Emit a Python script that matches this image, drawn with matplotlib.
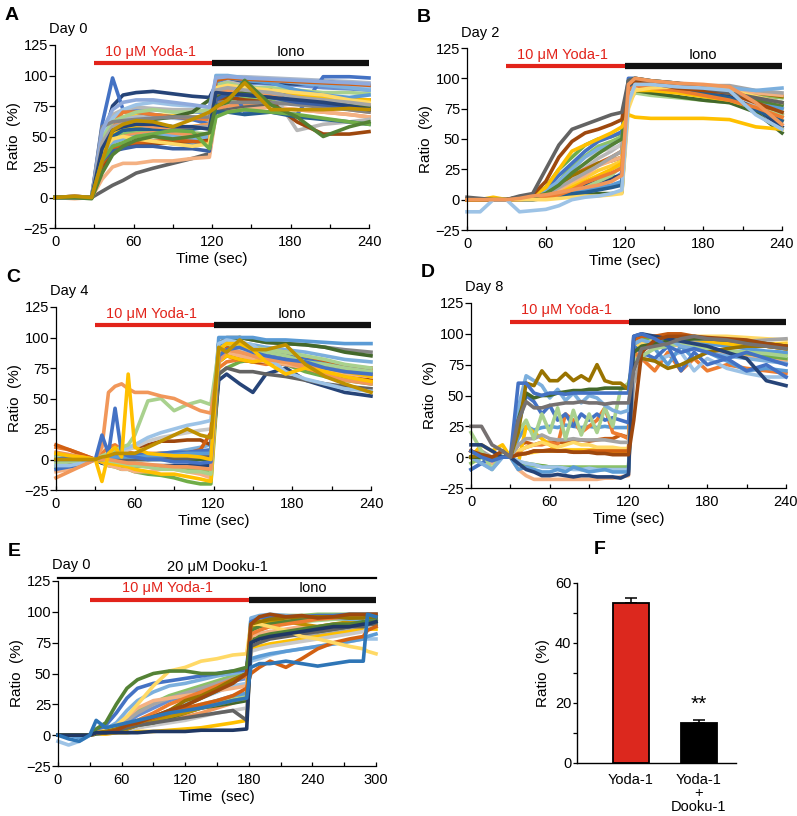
import matplotlib
matplotlib.use("Agg")
import matplotlib.pyplot as plt
from matplotlib.ticker import MultipleLocator

plt.rcParams['font.family'] = ['Liberation Sans', 'DejaVu Sans']
plt.rcParams['font.size'] = 10

W, H = 797, 816

# ---------------- data ----------------
# Panel A, Day 0
t_a = [0, 15, 28, 36, 44, 52, 62, 75, 90, 105, 118, 123, 132, 145, 165, 185, 205, 225, 240]
traces_a = [
    [0, 0, 0, 50, 62, 66, 68, 68, 67, 66, 65, 84, 86, 85, 84, 83, 82, 81, 80],
    [0, 0, 0, 40, 50, 52, 54, 55, 54, 53, 52, 78, 80, 82, 80, 78, 76, 74, 73],
    [0, 0, 0, 52, 66, 70, 72, 72, 71, 70, 70, 94, 95, 94, 93, 92, 90, 89, 88],
    [0, 0, 0, 33, 45, 50, 52, 53, 52, 52, 50, 72, 75, 76, 74, 72, 70, 68, 66],
    [0, 0, 0, 45, 60, 64, 66, 66, 65, 64, 63, 98, 99, 99, 98, 97, 96, 95, 94],
    [0, 1, 0, 45, 75, 84, 86, 87, 85, 83, 82, 92, 96, 95, 94, 93, 95, 93, 91],
    [0, 0, 0, 60, 98, 72, 70, 68, 66, 64, 60, 90, 97, 70, 70, 68, 99, 99, 98],
    [0, 0, 0, 5, 10, 14, 20, 24, 28, 32, 36, 70, 72, 74, 76, 78, 78, 80, 80],
    [0, -1, 0, 15, 25, 28, 28, 30, 30, 32, 33, 68, 70, 72, 74, 72, 70, 68, 66],
    [0, 1, 0, 55, 68, 72, 74, 73, 72, 72, 70, 92, 95, 92, 88, 55, 60, 62, 64],
    [0, 0, 0, 50, 65, 72, 76, 78, 76, 75, 74, 96, 98, 97, 96, 95, 94, 92, 90],
    [0, 1, 0, 45, 60, 70, 70, 68, 66, 65, 64, 88, 90, 88, 86, 84, 80, 78, 76],
    [0, 0, 0, 40, 52, 56, 58, 60, 58, 58, 60, 85, 88, 86, 85, 84, 82, 80, 80],
    [0, 0, 0, 48, 62, 66, 70, 72, 70, 70, 72, 92, 94, 90, 90, 88, 86, 86, 85],
    [0, 0, 0, 30, 40, 42, 45, 46, 44, 43, 44, 95, 98, 96, 94, 88, 84, 82, 84],
    [0, 0, 0, 25, 38, 42, 44, 44, 45, 46, 48, 80, 82, 80, 78, 62, 52, 52, 54],
    [0, 0, 0, 35, 50, 55, 56, 56, 55, 56, 58, 70, 70, 68, 70, 66, 64, 62, 60],
    [0, 0, 0, 42, 58, 62, 60, 58, 57, 58, 60, 86, 88, 87, 85, 82, 78, 72, 70],
    [0, 0, 0, 38, 55, 60, 62, 64, 66, 70, 80, 82, 84, 86, 88, 80, 78, 76, 74],
    [0, 0, 0, 58, 62, 63, 64, 65, 66, 66, 66, 78, 78, 78, 78, 76, 74, 72, 70],
    [0, 0, 0, 35, 45, 48, 50, 52, 50, 48, 50, 100, 100, 98, 96, 94, 92, 90, 88],
    [0, 0, 0, 28, 40, 44, 45, 46, 47, 46, 45, 96, 98, 97, 96, 95, 94, 93, 92],
    [0, 0, 0, 30, 38, 40, 42, 42, 40, 40, 38, 80, 85, 84, 82, 78, 76, 74, 72],
    [0, 0, 0, 38, 48, 50, 48, 46, 44, 42, 44, 90, 92, 90, 88, 86, 84, 80, 78],
    [0, 0, 0, 55, 72, 78, 80, 80, 78, 76, 74, 98, 99, 98, 97, 96, 95, 94, 93],
    [0, 0, 0, 45, 58, 60, 62, 60, 58, 58, 58, 88, 90, 88, 86, 82, 80, 78, 76],
    [0, 0, 0, 40, 55, 58, 60, 60, 58, 58, 56, 86, 85, 84, 82, 80, 78, 75, 72],
    [0, 0, 0, 30, 42, 45, 50, 52, 55, 54, 40, 66, 70, 72, 70, 68, 65, 62, 60],
    [0, 0, -1, 20, 35, 42, 47, 50, 48, 50, 53, 75, 78, 96, 76, 66, 50, 58, 62],
    [0, 1, 0, 30, 55, 60, 63, 62, 58, 64, 70, 74, 80, 94, 72, 72, 72, 73, 72],
]
colors_a = ['#FFCD33', '#8CC168', '#698ED0', '#F1975A', '#ADB9CA',
            '#264478', '#4472C4', '#636363', '#F4B183', '#B7B7B7', '#9DC3E6', '#ED7D31',
            '#FFC000', '#A9D18E', '#5B9BD5', '#9E480E', '#255E91', '#F1975A', '#43682B',
            '#848484', '#7CAFDD', '#D26012', '#3A5FA3', '#FFD966', '#8FAADC', '#A5A5A5',
            '#264478', '#70AD47', '#548235', '#BF9000']

# Panel B, Day 2
t_b = [0, 10, 20, 30, 40, 50, 60, 70, 80, 90, 100, 110, 118, 123, 128, 140, 160, 180, 200, 220, 240]
traces_b = [
    [0, 0, 0, 0, 1, 2, 6, 15, 28, 36, 44, 48, 52, 97, 99, 97, 95, 93, 90, 86, 84],
    [0, 0, 0, 0, 0, 1, 3, 8, 12, 18, 24, 28, 32, 90, 95, 93, 91, 89, 86, 80, 74],
    [0, 0, 0, 0, 0, 0, 1, 3, 6, 9, 12, 16, 22, 93, 97, 96, 94, 92, 90, 84, 78],
    [0, 0, 0, 0, 1, 2, 4, 10, 18, 26, 34, 40, 46, 94, 96, 94, 92, 90, 86, 78, 68],
    [0, 0, 0, 0, 2, 3, 10, 25, 35, 45, 50, 52, 55, 96, 98, 95, 92, 90, 86, 82, 80],
    [0, 0, 0, 0, 1, 2, 8, 20, 30, 40, 48, 52, 56, 100, 100, 98, 96, 94, 90, 85, 80],
    [0, 0, 0, 0, 1, 2, 5, 10, 20, 30, 40, 42, 45, 95, 97, 95, 93, 90, 86, 80, 75],
    [0, 0, 0, 0, 1, 1, 3, 5, 8, 12, 15, 18, 20, 96, 98, 96, 94, 90, 85, 75, 60],
    [0, 0, 0, 0, 1, 2, 5, 12, 20, 25, 30, 35, 40, 96, 98, 96, 94, 92, 88, 80, 70],
    [0, 0, 0, 0, 0, 1, 2, 4, 6, 10, 15, 20, 28, 80, 88, 86, 84, 82, 80, 75, 70],
    [0, 0, 0, 0, 2, 2, 6, 12, 20, 24, 30, 32, 35, 96, 98, 96, 95, 94, 92, 88, 85],
    [0, 0, 0, 0, 0, 1, 3, 8, 15, 20, 28, 32, 35, 95, 97, 95, 93, 92, 90, 88, 86],
    [0, 0, 0, 0, 0, 1, 2, 4, 6, 8, 10, 12, 15, 90, 96, 94, 92, 90, 88, 82, 75],
    [0, 0, 0, 0, 0, 0, 1, 2, 3, 4, 5, 5, 6, 85, 90, 88, 85, 82, 80, 72, 55],
    [0, 0, 0, 0, 1, 1, 4, 10, 16, 22, 28, 35, 40, 95, 98, 96, 95, 94, 94, 90, 88],
    [0, 0, 0, 0, 0, 1, 2, 5, 10, 15, 20, 25, 30, 85, 90, 90, 88, 85, 82, 75, 65],
    [0, 0, 0, 0, 1, 3, 8, 15, 25, 35, 42, 45, 50, 96, 98, 97, 95, 93, 92, 90, 92],
    [0, 0, 0, 0, 0, 0, 2, 3, 5, 6, 8, 10, 12, 92, 95, 94, 92, 88, 84, 74, 65],
    [0, 0, 0, 0, 0, 1, 2, 4, 8, 14, 18, 22, 26, 90, 94, 92, 90, 86, 82, 76, 68],
    [0, 0, 0, 0, 1, 2, 5, 12, 22, 30, 38, 45, 50, 98, 100, 98, 96, 92, 88, 82, 78],
    [0, 0, 0, 0, 0, 0, 0, 1, 2, 3, 3, 4, 5, 75, 90, 92, 93, 92, 90, 85, 80],
    [0, 0, 2, 0, 2, 3, 10, 25, 40, 45, 50, 55, 60, 70, 68, 67, 67, 67, 66, 60, 58],
    [0, 0, 0, 0, 2, 4, 15, 35, 48, 55, 58, 62, 66, 95, 98, 96, 92, 90, 88, 80, 72],
    [2, 1, 0, 0, 3, 5, 25, 45, 58, 62, 66, 70, 72, 98, 100, 98, 96, 92, 88, 84, 80],
    [-10, -10, 0, 0, -10, -9, -8, -5, 0, 2, 3, 5, 8, 80, 95, 95, 93, 92, 90, 70, 58],
    [0, 0, 0, 0, 1, 3, 4, 6, 8, 10, 12, 15, 20, 95, 100, 98, 96, 95, 93, 80, 62],
]
colors_b = ['#8CC168', '#FFCD33', '#698ED0', '#B7B7B7',
            '#70AD47', '#4472C4', '#C9C9C9', '#264478', '#D26012', '#A9D18E', '#997300',
            '#F4B183', '#5B9BD5', '#43682B', '#A5A5A5', '#FFC000', '#7CAFDD', '#255E91',
            '#ED7D31', '#548235', '#FFD966', '#FFC000', '#9E480E', '#636363', '#9DC3E6',
            '#F1975A']

# Panel C, Day 4
t_c = [0, 10, 20, 30, 35, 40, 45, 50, 55, 60, 70, 80, 90, 100, 110, 118, 124, 130, 140, 150,
       160, 175, 190, 205, 220, 240]
traces_c = [
    [0, 0, 0, 0, 0, 1, 1, 2, 2, 3, 4, 5, 6, 8, 10, 12, 96, 98, 96, 94, 92, 90, 88, 85, 82, 80],
    [-6, -4, -2, 0, -1, -2, -3, -4, -4, -5, -6, -6, -7, -8, -9, -10, 85, 90, 92, 90, 88, 84, 80, 76, 74, 72],
    [4, 3, 2, 0, 1, 1, 2, 2, 3, 3, 4, 5, 5, 6, 6, 6, 92, 96, 95, 92, 90, 88, 84, 80, 76, 74],
    [-5, -5, -3, 0, -3, -5, -6, -8, -8, -10, -12, -13, -15, -18, -20, -20, 70, 75, 80, 82, 80, 78, 72, 68, 65, 62],
    [0, 0, 0, 0, -3, -2, -4, -5, -5, -5, -5, -5, -5, -5, -5, -5, 65, 70, 62, 55, 70, 75, 65, 60, 55, 52],
    [10, 8, 4, 0, 5, 10, 12, 8, 6, 5, 5, 5, 4, 3, 3, 2, 75, 80, 82, 80, 78, 80, 78, 75, 72, 70],
    [0, 0, 0, 0, 0, 0, 0, 0, 0, 0, 2, 3, 3, 5, 5, 5, 95, 100, 100, 98, 96, 95, 94, 92, 90, 88],
    [0, 0, 0, 0, 0, 0, 0, 0, 0, 0, 0, 0, 0, 0, 0, 0, 95, 98, 100, 98, 96, 95, 94, 92, 88, 85],
    [0, -2, -2, 0, 2, 4, 6, 8, 10, 10, 12, 15, 15, 16, 16, 12, 80, 85, 82, 80, 80, 78, 75, 70, 68, 65],
    [5, 4, 2, 0, 1, 2, 3, 5, 8, 10, 15, 18, 20, 22, 24, 25, 90, 92, 90, 88, 85, 82, 80, 76, 72, 70],
    [-10, -8, -5, 0, -2, -5, -6, -8, -8, -10, -10, -8, -8, -10, -12, -15, 85, 88, 85, 82, 80, 78, 75, 72, 70, 68],
    [3, 2, 1, 0, -2, -3, -4, -5, -6, -8, -10, -12, -12, -14, -16, -18, 80, 85, 82, 80, 82, 80, 78, 75, 72, 68],
    [12, 8, 4, 0, 2, 4, 6, 5, 4, 3, 3, 3, 4, 5, 8, 22, 90, 92, 94, 90, 88, 85, 82, 80, 76, 75],
    [-8, -6, -4, 0, 1, 2, 2, 3, 3, 4, 4, 5, 6, 6, 7, 8, 95, 95, 92, 90, 88, 85, 82, 78, 75, 72],
    [2, 2, 1, 0, 0, 0, 0, 0, 0, 0, 0, 1, 1, 1, 2, 2, 70, 75, 72, 72, 70, 68, 65, 62, 60, 58],
    [-3, -2, -1, 0, 0, -1, -2, -3, -4, -5, -6, -8, -8, -10, -10, -12, 90, 95, 92, 92, 90, 88, 85, 82, 78, 75],
    [0, 0, 0, 0, 1, 2, 2, 2, 2, 2, 3, 3, 4, 5, 5, 5, 100, 100, 100, 100, 98, 98, 97, 96, 95, 95],
    [6, 4, 2, 0, 0, 0, -1, -2, -3, -3, -4, -5, -6, -6, -7, -8, 88, 90, 88, 85, 82, 80, 78, 75, 72, 70],
    [-5, -5, -3, 0, 2, 4, 6, 8, 10, 12, 18, 22, 25, 28, 30, 32, 95, 98, 96, 94, 85, 72, 66, 62, 58, 56],
    [2, 1, 0, 0, 3, 5, 8, 10, 12, 20, 48, 50, 40, 45, 48, 45, 90, 95, 92, 90, 88, 85, 80, 78, 75, 72],
    [-15, -10, -5, 0, 10, 55, 60, 62, 58, 55, 55, 52, 50, 45, 40, 38, 80, 90, 88, 85, 82, 80, 75, 70, 65, 62],
    [0, 2, 0, 0, 20, 5, 42, 5, 3, 2, 0, 0, -2, -2, -3, -2, 85, 90, 92, 88, 85, 82, 80, 75, 72, 70],
    [5, 3, 2, 0, -18, 5, 10, 2, 70, 10, 5, 4, 3, 3, 2, 0, 90, 95, 95, 90, 80, 70, 75, 72, 68, 64],
    [0, 0, 0, 0, 2, 3, 5, 5, 5, 5, 10, 15, 20, 25, 20, 18, 92, 88, 98, 90, 90, 94, 78, 68, 62, 55],
]
colors_c = ['#7CAFDD', '#8CC168', '#FFCD33',
            '#70AD47', '#264478', '#ED7D31', '#848484', '#43682B', '#9E480E', '#C9C9C9',
            '#F4B183', '#FFC000', '#D26012', '#4472C4', '#636363', '#A9D18E', '#5B9BD5',
            '#F1975A', '#9DC3E6', '#A9D18E', '#F1975A', '#4472C4', '#FFC000', '#BF9000']

# Panel D, Day 8
t_d = [0, 8, 16, 24, 30, 36, 42, 48, 54, 60, 66, 72, 78, 84, 90, 96, 102, 108, 114, 120, 124,
       130, 140, 150, 160, 170, 180, 195, 210, 225, 240]
traces_d = [
    [0, 0, 0, 0, 0, 2, 3, 4, 5, 5, 5, 6, 6, 6, 6, 6, 6, 6, 6, 6, 92, 96, 97, 98, 97, 96, 95, 94, 93, 92, 92],
    [-5, 0, -5, 0, 0, -5, -6, -7, -7, -8, -8, -8, -8, -8, -8, -8, -8, -8, -8, -8, 85, 90, 92, 94, 92, 90, 88, 86, 85, 84, 84],
    [0, 0, 0, 0, 0, 15, 25, 22, 24, 25, 24, 26, 25, 24, 25, 24, 25, 24, 24, 24, 88, 90, 92, 94, 95, 94, 92, 90, 88, 86, 85],
    [5, 0, 0, 0, 0, 10, 12, 10, 12, 12, 12, 12, 14, 14, 13, 14, 15, 15, 18, 16, 88, 96, 98, 100, 100, 98, 96, 94, 92, 90, 88],
    [0, -5, -5, 0, 0, -10, -15, -18, -18, -18, -18, -18, -18, -18, -18, -18, -17, -17, -16, -15, 80, 88, 90, 92, 90, 88, 86, 84, 82, 80, 78],
    [0, 0, 0, 0, 0, 5, 8, 10, 10, 12, 10, 35, 30, 20, 25, 30, 40, 20, 18, 15, 85, 80, 70, 85, 70, 80, 70, 75, 72, 70, 68],
    [0, 10, 5, 10, 0, -5, 25, 20, 15, 10, 5, 5, 5, 5, 4, 4, 4, 4, 4, 4, 90, 92, 94, 95, 96, 95, 94, 92, 90, 90, 88],
    [0, -5, 0, 0, 0, -5, -5, -6, -7, -8, -8, -9, -9, -10, -10, -10, -10, -10, -10, -10, 90, 95, 96, 95, 92, 90, 88, 86, 84, 82, 80],
    [-10, -5, -10, 0, 0, -3, -5, -6, -8, -8, -8, -9, -10, -10, -9, -10, -10, -10, -10, -10, 75, 80, 78, 82, 85, 70, 80, 72, 68, 65, 65],
    [0, 0, 0, 0, 0, -10, -8, -10, -12, -12, -10, -12, -8, -10, -12, -11, -10, -12, -12, -12, 92, 92, 88, 75, 90, 80, 85, 78, 70, 72, 70],
    [0, 0, 0, 0, 0, 5, 8, 10, 12, 10, 8, 10, 12, 10, 10, 8, 8, 8, 7, 7, 88, 92, 95, 96, 97, 98, 98, 98, 97, 96, 95],
    [5, 0, 0, 0, 0, 3, 3, 5, 5, 6, 5, 5, 4, 4, 5, 5, 5, 5, 5, 5, 95, 98, 98, 98, 98, 97, 96, 95, 94, 92, 90],
    [0, 5, 0, 0, 0, 10, 15, 15, 18, 15, 14, 14, 15, 14, 14, 14, 14, 13, 12, 12, 60, 80, 90, 92, 94, 95, 96, 95, 94, 95, 96],
    [-10, -5, 0, 0, 0, 25, 50, 45, 35, 42, 30, 35, 25, 35, 30, 35, 30, 32, 30, 28, 90, 85, 80, 90, 70, 85, 75, 80, 70, 75, 65],
    [20, 5, -10, 5, 0, 20, 30, 15, 35, 20, 40, 15, 38, 18, 35, 20, 40, 25, 55, 60, 78, 82, 88, 90, 92, 90, 88, 86, 85, 84, 82],
    [0, -5, -10, 0, 0, 40, 66, 62, 58, 48, 55, 46, 52, 44, 50, 48, 42, 38, 36, 38, 92, 95, 92, 96, 90, 88, 85, 82, 80, 78, 76],
    [0, 0, 0, 0, 0, 30, 52, 48, 50, 50, 52, 53, 54, 54, 55, 55, 56, 56, 56, 56, 85, 90, 92, 94, 95, 96, 96, 95, 94, 92, 90],
    [0, 2, 0, 0, 0, 20, 60, 58, 70, 62, 62, 68, 62, 66, 62, 75, 62, 60, 60, 55, 75, 80, 78, 72, 75, 80, 85, 88, 90, 90, 88],
    [10, 10, 5, 0, 0, -5, -10, -12, -15, -15, -14, -15, -16, -15, -15, -16, -16, -16, -17, -14, 98, 100, 98, 96, 94, 92, 90, 85, 80, 62, 58],
    [5, 2, 0, 5, 0, 2, 3, 5, 5, 5, 5, 5, 4, 4, 4, 3, 3, 2, 2, 2, 30, 85, 95, 98, 98, 98, 97, 96, 95, 92, 90],
    [5, 0, -3, 0, 0, 60, 60, 52, 50, 52, 52, 51, 52, 52, 52, 52, 52, 52, 52, 52, 98, 100, 96, 90, 85, 88, 85, 80, 85, 80, 75],
    [25, 25, 10, 5, 0, 30, 45, 40, 40, 42, 43, 44, 44, 45, 44, 44, 43, 44, 44, 44, 70, 88, 90, 92, 96, 98, 96, 95, 92, 90, 88],
]
colors_d = ['#FFCD33', '#8CC168', '#5B9BD5',
            '#C55A11', '#F4B183', '#ED7D31', '#FFC000', '#70AD47', '#9DC3E6', '#5B9BD5',
            '#FFD966', '#D26012', '#A5A5A5', '#4472C4', '#A9D18E', '#7CAFDD', '#43682B',
            '#997300', '#264478', '#9E480E', '#4472C4', '#767171']

# Panel E, Day 0 + Dooku-1
t_e = [0, 10, 20, 30, 36, 45, 55, 65, 75, 90, 105, 120, 135, 150, 165, 178, 182, 190, 200,
       215, 230, 245, 260, 275, 288, 292, 300]
traces_e = [
    [0, 0, 0, 0, 1, 2, 5, 10, 16, 22, 28, 32, 36, 40, 44, 46, 86, 88, 90, 92, 93, 94, 95, 96, 96, 96, 96],
    [0, 0, 0, 0, 1, 1, 2, 4, 6, 9, 12, 15, 18, 22, 26, 30, 76, 78, 80, 83, 85, 87, 88, 90, 91, 92, 93],
    [0, 0, 0, 0, 2, 4, 8, 14, 20, 26, 32, 36, 40, 44, 48, 50, 94, 96, 97, 97, 97, 98, 98, 98, 98, 98, 98],
    [0, 0, 0, 0, 2, 3, 6, 12, 18, 25, 30, 34, 38, 42, 46, 48, 80, 82, 84, 82, 80, 82, 84, 85, 86, 88, 90],
    [0, 0, 0, 0, 1, 2, 3, 5, 8, 12, 15, 20, 25, 28, 30, 32, 88, 90, 90, 92, 92, 93, 94, 94, 95, 95, 95],
    [0, 0, 0, 0, 1, 1, 2, 2, 3, 3, 4, 5, 6, 8, 10, 12, 70, 72, 74, 76, 78, 80, 82, 84, 86, 86, 86],
    [-5, -8, -5, 0, 1, 2, 4, 6, 10, 15, 20, 25, 30, 35, 40, 42, 60, 62, 65, 68, 70, 72, 74, 76, 78, 78, 78],
    [0, 0, 0, 0, 1, 2, 3, 4, 6, 8, 10, 12, 15, 18, 20, 22, 68, 70, 72, 74, 76, 78, 80, 82, 84, 86, 88],
    [0, 0, -2, 0, 2, 3, 5, 7, 10, 13, 17, 20, 24, 28, 32, 34, 62, 64, 66, 68, 70, 72, 74, 76, 78, 80, 82],
    [0, 0, 0, 0, 1, 2, 3, 5, 8, 10, 14, 18, 22, 24, 26, 28, 78, 80, 82, 84, 86, 84, 86, 88, 90, 92, 94],
    [0, 0, 0, 0, 2, 3, 8, 15, 22, 28, 30, 32, 34, 36, 38, 40, 80, 82, 84, 86, 88, 88, 90, 90, 92, 92, 92],
    [0, 0, 0, 0, 2, 2, 3, 5, 8, 12, 15, 18, 22, 25, 28, 30, 88, 90, 92, 92, 90, 88, 90, 92, 94, 95, 95],
    [0, 0, 0, 0, 2, 5, 10, 20, 28, 35, 40, 42, 45, 48, 50, 52, 95, 97, 98, 97, 96, 95, 95, 94, 94, 94, 93],
    [0, 0, 0, 0, 2, 2, 4, 6, 10, 14, 18, 24, 30, 36, 44, 50, 85, 88, 90, 92, 94, 95, 96, 95, 96, 95, 95],
    [0, 0, 0, 0, 2, 3, 5, 8, 12, 18, 25, 30, 35, 40, 45, 48, 82, 85, 88, 90, 92, 94, 95, 96, 97, 98, 98],
    [0, 0, 0, 0, 2, 3, 4, 6, 8, 10, 12, 14, 16, 18, 20, 12, 72, 75, 78, 80, 82, 84, 86, 88, 88, 90, 90],
    [0, 0, 0, 0, 2, 3, 5, 8, 10, 14, 18, 22, 25, 28, 32, 38, 50, 55, 60, 55, 62, 70, 75, 78, 80, 85, 88],
    [0, 0, 0, 0, 2, 8, 18, 30, 38, 42, 44, 46, 48, 50, 52, 53, 92, 95, 96, 96, 96, 97, 97, 98, 98, 98, 98],
    [0, 0, 0, 0, 2, 4, 8, 15, 25, 40, 52, 55, 60, 62, 65, 66, 90, 90, 88, 85, 80, 78, 75, 72, 70, 68, 66],
    [0, 0, 0, 0, 2, 3, 5, 8, 10, 15, 20, 28, 32, 38, 45, 50, 90, 92, 94, 95, 96, 96, 96, 95, 95, 96, 96],
    [0, 0, 0, 0, 2, 2, 4, 8, 10, 15, 20, 24, 30, 36, 42, 50, 90, 96, 98, 96, 97, 95, 96, 98, 98, 98, 98],
    [0, 0, 0, 0, 5, 10, 25, 38, 45, 50, 52, 52, 50, 50, 52, 55, 75, 80, 82, 84, 86, 88, 90, 90, 92, 92, 92],
    [0, 0, 0, 0, 2, 2, 2, 2, 2, 3, 3, 3, 4, 4, 4, 5, 75, 78, 80, 82, 84, 86, 88, 88, 90, 90, 92],
    [0, -3, -5, 0, 12, 6, 8, 10, 12, 15, 18, 20, 22, 25, 28, 30, 55, 58, 58, 60, 58, 56, 58, 60, 60, 98, 96],
]
colors_e = ['#698ED0', '#F1975A', '#8CC168',
            '#A5A5A5', '#A9D18E', '#FFC000', '#9DC3E6', '#C9C9C9', '#5B9BD5', '#43682B',
            '#F4B183', '#BF9000', '#7CAFDD', '#548235', '#ED7D31', '#636363', '#D26012',
            '#4472C4', '#FFD966', '#997300', '#9E480E', '#548235', '#203864', '#2E75B6']

# Panel F
bar_labels = ['Yoda-1', 'Yoda-1\n+\nDooku-1']
bar_means = [53.5, 13.2]
bar_errs = [1.4, 1.2]


def rect(x0, y0, x1, y1):
    return [x0 / W, 1 - y1 / H, (x1 - x0) / W, (y1 - y0) / H]


fig = plt.figure(figsize=(W / 100, H / 100), dpi=100)


def trace_panel(box, t, traces, colors, day, letter, tmax, iono_start, xlabel):
    ax = fig.add_axes(rect(*box))
    for ys, c in zip(traces, colors):
        ax.plot(t, ys, color=c, lw=2.6, solid_joinstyle='round', clip_on=False)
    ax.set_xlim(0, tmax)
    ax.set_ylim(-25, 125)
    ax.set_yticks(range(-25, 126, 25))
    ax.set_xticks(range(0, tmax + 1, 60))
    ax.xaxis.set_minor_locator(MultipleLocator(30))
    ax.tick_params(axis='y', direction='out', length=4, width=0.9, labelsize=10.5, pad=1)
    ax.tick_params(axis='x', which='both', direction='in', length=3, width=0.9, labelsize=10.5, pad=5)
    for s in ['top', 'right']:
        ax.spines[s].set_visible(False)
    for s in ['left', 'bottom']:
        ax.spines[s].set_linewidth(0.9)
    ax.set_ylabel('Ratio  (%)', fontsize=11, labelpad=2)
    ax.set_xlabel(xlabel, fontsize=11, labelpad=2)
    # treatment bars
    ax.plot([30, iono_start], [110, 110], color='#E2231A', lw=3, solid_capstyle='butt', clip_on=False)
    ax.plot([iono_start, tmax], [110, 110], color='#111111', lw=4.5, solid_capstyle='butt', clip_on=False)
    ax.text((30 + iono_start) / 2 - 2, 119, '10 μM Yoda-1', color='#E2231A', fontsize=10.5,
            ha='center', va='center')
    ax.text((iono_start + tmax) / 2, 119, 'Iono', color='black', fontsize=10.5,
            ha='center', va='center')
    ax.text(-0.02, 1.085, day, transform=ax.transAxes, fontsize=10.5, ha='left', va='center')
    fig.text((box[0] - 50) / W, 1 - (box[1] - 30) / H, letter, fontsize=14, fontweight='bold',
             ha='left', va='center')
    return ax


trace_panel((55, 45, 369, 228), t_a, traces_a, colors_a, 'Day 0', 'A', 240, 120, 'Time (sec)')
trace_panel((467, 48, 782, 230), t_b, traces_b, colors_b, 'Day 2', 'B', 240, 120, 'Time (sec)')
trace_panel((56, 307, 371, 490), t_c, traces_c, colors_c, 'Day 4', 'C', 240, 120, 'Time (sec)')
trace_panel((471, 303, 786, 488), t_d, traces_d, colors_d, 'Day 8', 'D', 240, 120, 'Time (sec)')
ax_e = trace_panel((58, 581, 376, 766), t_e, traces_e, colors_e, 'Day 0', 'E', 300, 180,
                   'Time  (sec)')
ax_e.plot([0, 300], [127.5, 127.5], color='black', lw=1.6, clip_on=False)
ax_e.text(150, 136, '20 μM Dooku-1', fontsize=10.5, ha='center', va='center')

# Panel F: bar chart
ax_f = fig.add_axes(rect(577, 583, 736, 763))
xpos = [0, 1]
ax_f.bar(xpos, bar_means, width=0.53, color=['#DC281E', '#000000'], edgecolor='black',
         linewidth=1.3, zorder=2)
ax_f.errorbar(xpos, bar_means, yerr=[[0, 0], bar_errs], fmt='none', ecolor='black',
              elinewidth=1.1, capsize=4, capthick=1.1, zorder=1)
ax_f.text(1, 19.5, '**', fontsize=15, ha='center', va='center')
ax_f.set_xlim(-0.79, 1.55)
ax_f.set_ylim(0, 60)
ax_f.set_yticks([0, 20, 40, 60])
ax_f.yaxis.set_minor_locator(MultipleLocator(10))
ax_f.set_xticks(xpos)
ax_f.set_xticklabels(bar_labels, fontsize=10.5, linespacing=0.95)
ax_f.tick_params(axis='x', length=0, pad=7)
ax_f.tick_params(axis='y', which='both', direction='out', length=3, width=0.9, labelsize=10.5, pad=1)
for s in ['top', 'right']:
    ax_f.spines[s].set_visible(False)
for s in ['left', 'bottom']:
    ax_f.spines[s].set_linewidth(1.0)
ax_f.set_ylabel('Ratio  (%)', fontsize=11, labelpad=4)
fig.text(600 / W, 1 - 549 / H, 'F', fontsize=14, fontweight='bold', ha='center', va='center')

fig.savefig('out.png', dpi=100)
